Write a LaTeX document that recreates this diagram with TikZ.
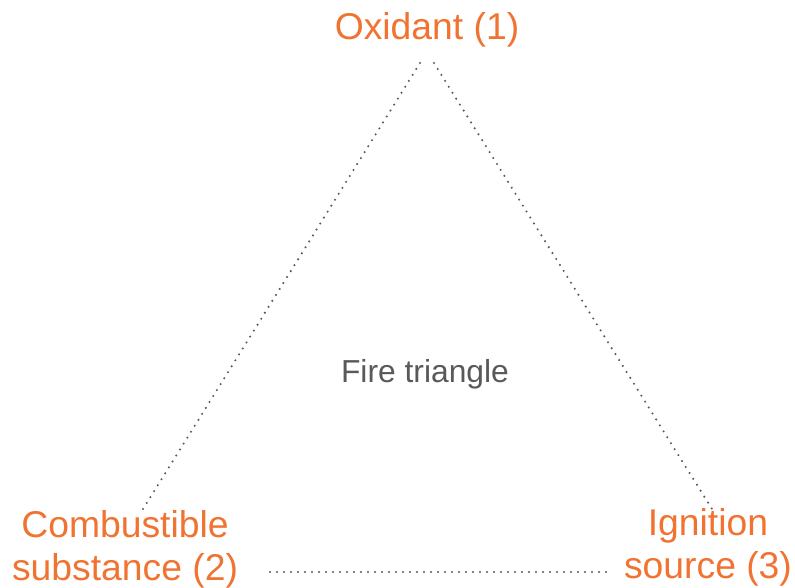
\documentclass[tikz,border=0pt]{standalone}
\usepackage{fontspec}
\setmainfont{Liberation Sans}
\definecolor{fireorange}{RGB}{241,115,50}
\definecolor{firegray}{RGB}{89,89,89}
\begin{document}
\begin{tikzpicture}[x=1pt,y=-1pt,
  label/.style={text=fireorange,font=\fontsize{37.3}{44}\selectfont,inner sep=0pt,anchor=base},
  title/.style={text=firegray,font=\fontsize{31.8}{36}\selectfont,inner sep=0pt,anchor=base},
  dotline/.style={draw=firegray,line width=2.3pt,line cap=round,dash pattern=on 0pt off 7pt}]
\useasboundingbox (0,0) rectangle (795,587);
\node[label] (ox) at (427,39) {Oxidant (1)};
\node[label] (comb1) at (125,537) {Combustible};
\node[label] (comb2) at (125,580) {substance (2)};
\node[label] (ign1) at (708,535) {Ignition};
\node[label] (ign2) at (708,578) {source (3)};
\node[title] (ft) at (425,382) {Fire triangle};
\coordinate (topL) at (420,63);
\coordinate (topR) at (434,63);
\coordinate (botL) at (143,509);
\coordinate (botR) at (712,509);
\coordinate (baseL) at (270,572);
\coordinate (baseR) at (609,572);
\draw[dotline] (topL) -- (botL);
\draw[dotline] (topR) -- (botR);
\draw[dotline] (baseL) -- (baseR);
\end{tikzpicture}
\end{document}
